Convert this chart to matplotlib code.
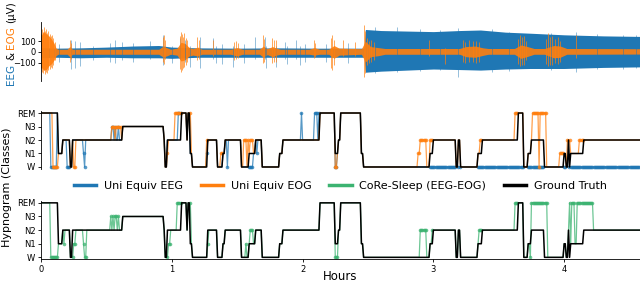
import numpy as np
import matplotlib
matplotlib.use("Agg")
import matplotlib.pyplot as plt
from matplotlib.lines import Line2D

BLUE   = "#1f77b4"
ORANGE = "#ff7f0e"
GREEN  = "#3cb371"

STAGES          = ["W", "N1", "N2", "N3", "REM"]
EPOCHS_PER_HOUR = 120          # 30 s epochs
N_EPOCHS        = 550

eeg_env_t  = [0.00, 0.12, 0.30, 0.50, 0.70, 0.90, 1.00, 1.20, 1.50, 1.80, 2.10, 2.47,
              2.48, 2.60, 2.80, 3.00, 3.20, 3.36, 3.55, 3.74, 4.00, 4.30, 4.58]
eeg_env_hi = [40, 35, 38, 45, 55, 60, 45, 38, 35, 38, 35, 35,
              210, 200, 195, 190, 200, 205, 185, 175, 160, 150, 145]
eeg_env_lo = [-55, -50, -55, -50, -55, -55, -60, -50, -50, -50, -50, -50,
              -190, -180, -170, -160, -165, -170, -160, -155, -155, -145, -140]

eeg_spk_t  = [0.23, 0.26, 0.30, 0.53, 0.565, 0.83, 0.935, 1.06, 1.14, 1.215,
              1.315, 1.34, 1.47, 1.635, 1.71, 1.72, 1.80, 1.865, 1.95, 1.98,
              2.72, 3.185, 3.58, 4.09, 0.14, 0.40, 0.62, 0.70, 1.00, 1.10,
              1.38, 1.55, 1.88, 2.02, 2.18, 2.35, 2.55, 2.90, 3.05, 3.45,
              3.90, 4.25, 4.45, 4.55]
eeg_spk_hi = [112, 100, 97, 81, 112, 100, 159, 128, 60, 143,
              128, 60, 60, 143, 143, 60, 60, 97, 112, 60,
              236, 221, 190, 190, 70, 60, 90, 80, 60, 110,
              70, 75, 60, 75, 70, 80, 230, 215, 205, 215,
              180, 165, 160, 155]
eeg_spk_lo = [-160, -150, -130, -90, -106, -70, -121, -70, -137, -153,
              -70, -106, -137, -70, -70, -153, -137, -70, -70, -121,
              -190, -230, -175, -184, -90, -80, -75, -95, -100, -90,
              -110, -100, -110, -95, -90, -100, -200, -175, -170, -185,
              -165, -160, -160, -150]

eog_env_t  = [0.00, 0.02, 0.04, 0.06, 0.08, 0.10, 0.115, 0.13, 0.20, 0.22, 0.24,
              0.90, 0.93, 0.96, 0.99, 1.04, 1.07, 1.10, 1.13, 1.16, 1.20, 1.23,
              1.45, 1.50, 1.54, 1.67, 1.70, 1.73, 1.77, 1.80, 1.83, 2.05, 2.09,
              2.13, 2.20, 2.24, 2.28, 2.45, 2.48, 2.52, 2.58, 2.63, 3.20, 3.25,
              3.32, 3.38, 3.42, 3.62, 3.67, 3.72, 3.77, 3.85, 3.92, 3.97, 4.02,
              4.08, 4.58]
eog_env_hi = [150, 190, 170, 150, 120, 80, 35, 25, 25, 50, 25,
              25, 50, 40, 25, 35, 90, 80, 45, 30, 45, 25,
              25, 40, 25, 25, 55, 30, 50, 35, 25, 25, 40,
              25, 25, 60, 35, 30, 100, 50, 40, 32, 32, 50,
              55, 38, 32, 32, 65, 50, 32, 32, 60, 55, 32,
              32, 30]
eog_env_lo = [-140, -170, -165, -130, -110, -75, -35, -22, -22, -45, -22,
              -22, -45, -38, -22, -30, -85, -75, -40, -30, -38, -22,
              -22, -38, -22, -22, -50, -25, -45, -30, -22, -22, -30,
              -22, -22, -60, -30, -22, -95, -45, -35, -22, -22, -45,
              -50, -32, -22, -22, -60, -42, -22, -22, -55, -50, -22,
              -22, -20]

eog_spk_t  = [0.003, 0.01, 0.018, 0.025, 0.033, 0.04, 0.048, 0.056, 0.065, 0.075,
              0.085, 0.095, 0.105, 0.225, 0.232, 0.93, 0.937, 0.945, 1.065, 1.072,
              1.08, 1.088, 1.095, 1.105, 1.115, 1.195, 1.205, 1.315, 1.475, 1.49,
              1.505, 1.695, 1.705, 1.765, 1.78, 1.795, 2.085, 2.095, 2.215, 2.225,
              2.24, 2.31, 2.40, 2.472, 2.478, 2.49, 2.505, 2.525, 2.545, 2.97,
              3.09, 3.225, 3.245, 3.27, 3.30, 3.325, 3.35, 3.645, 3.66, 3.675,
              3.69, 3.71, 3.865, 3.88, 3.895, 3.91, 3.93, 3.95, 3.965, 4.09]
eog_spk_hi = [170, 210, 190, 230, 200, 215, 180, 200, 170, 150,
              160, 130, 90, 112, 80, 140, 160, 110, 150, 188,
              170, 140, 175, 130, 110, 140, 110, 112, 90, 100,
              80, 160, 120, 130, 115, 110, 112, 80, 130, 160,
              110, 112, 90, 250, 200, 130, 100, 110, 90, 112,
              40, 110, 95, 110, 100, 105, 90, 120, 160, 140,
              150, 100, 120, 175, 140, 150, 120, 140, 100, 159]
eog_spk_lo = [-150, -190, -200, -170, -210, -185, -195, -170, -160, -140,
              -150, -120, -80, -95, -70, -90, -110, -70, -160, -185,
              -170, -150, -140, -120, -90, -80, -70, -40, -80, -70,
              -60, -100, -90, -100, -95, -90, -60, -50, -150, -168,
              -120, -40, -40, -230, -200, -120, -100, -90, -80, -40,
              -110, -90, -100, -95, -95, -100, -90, -110, -130, -120,
              -125, -80, -110, -130, -120, -120, -100, -110, -90, -60]

# --- hypnograms: ground truth change points (hours) and stages ---
gt_change = [0.0, 0.13, 0.165, 0.22, 0.235, 0.625, 0.935, 0.945, 0.96, 1.075,
             1.11, 1.12, 1.14, 1.155, 1.275, 1.35, 1.39, 1.405, 1.53, 1.59,
             1.635, 1.69, 1.82, 1.85, 2.13, 2.245, 2.27, 2.285, 2.45, 2.465,
             2.975, 3.0, 3.17, 3.19, 3.205, 3.335, 3.375, 3.65, 3.69, 3.72,
             3.75, 3.85, 4.0, 4.015, 4.03, 4.04, 4.05, 4.15]
gt_stage  = ["REM", "N1", "N2", "W", "N2", "N3", "N2", "W", "N2", "REM",
             "N2", "REM", "N1", "W", "N2", "W", "N1", "N2", "W", "N1",
             "N2", "W", "N1", "N2", "REM", "N1", "N2", "REM", "N1", "W",
             "N1", "N2", "W", "N2", "W", "N1", "N2", "REM", "W", "N1",
             "N2", "W", "N1", "W", "N2", "W", "N1", "N2"]

# predictions = ground truth except these (start h, end h, stage) spans
eeg_dev = [(0.075, 0.125, "W"), (0.20, 0.22, "W"), (0.325, 0.333, "N1"), (0.333, 0.34, "W"),
           (0.535, 0.543, "N3"), (0.55, 0.558, "N3"), (0.565, 0.573, "N3"), (0.585, 0.593, "N3"),
           (1.05, 1.075, "REM"), (1.13, 1.14, "REM"), (1.26, 1.275, "N1"), (1.42, 1.43, "W"),
           (1.59, 1.625, "W"), (1.645, 1.655, "N1"), (1.985, 1.995, "REM"),
           (2.085, 2.095, "REM"), (2.10, 2.11, "REM"), (2.12, 2.13, "REM"),
           (2.245, 2.26, "W"), (2.975, 4.60, "W")]

eog_dev = [(0.09, 0.13, "W"), (0.14, 0.15, "N1"), (0.25, 0.26, "W"),
           (0.535, 0.56, "N3"), (0.567, 0.61, "N3"),
           (0.955, 0.965, "W"), (0.965, 0.975, "N1"), (1.025, 1.075, "REM"),
           (1.13, 1.145, "REM"), (1.265, 1.275, "N2"), (1.37, 1.39, "N1"),
           (1.55, 1.56, "N2"), (1.565, 1.575, "N2"), (1.58, 1.59, "N2"),
           (1.60, 1.61, "N2"), (1.615, 1.625, "N2"), (2.245, 2.26, "W"),
           (2.88, 2.895, "N1"), (2.895, 2.945, "N2"), (2.975, 3.0, "N2"),
           (3.355, 3.375, "N2"), (3.62, 3.65, "REM"), (3.755, 3.805, "REM"),
           (3.805, 3.815, "W"), (3.815, 3.865, "REM"), (3.96, 3.995, "N1"),
           (4.01, 4.015, "N2"), (4.02, 4.03, "N2"), (4.035, 4.045, "N2"),
           (4.115, 4.15, "N2")]

core_dev = [(0.075, 0.13, "W"), (0.17, 0.18, "N1"), (0.225, 0.25, "W"), (0.25, 0.26, "N1"),
            (0.325, 0.333, "N1"), (0.333, 0.342, "W"),
            (0.53, 0.538, "N3"), (0.545, 0.553, "N3"), (0.56, 0.568, "N3"),
            (0.575, 0.583, "N3"), (0.59, 0.598, "N3"),
            (0.96, 0.975, "W"), (0.975, 0.985, "N1"), (1.04, 1.075, "REM"),
            (1.135, 1.145, "REM"), (1.27, 1.28, "N1"), (1.565, 1.575, "N1"),
            (1.595, 1.61, "N2"), (1.615, 1.625, "N2"), (2.245, 2.27, "W"),
            (2.90, 2.945, "N2"), (2.985, 3.0, "N2"), (3.35, 3.375, "N2"),
            (3.62, 3.65, "REM"), (3.735, 3.745, "W"), (3.745, 3.87, "REM"),
            (4.035, 4.045, "REM"), (4.055, 4.08, "REM"), (4.094, 4.22, "REM")]


def expand(change_h, stages):
    t = np.arange(N_EPOCHS) / EPOCHS_PER_HOUR
    idx = np.searchsorted(change_h, t, side="right") - 1
    codes = np.array([STAGES.index(s) for s in stages])
    return t, codes[idx]


def apply_dev(base, t, devs):
    out = base.copy()
    for a, b, s in devs:
        out[(t >= a) & (t < b)] = STAGES.index(s)
    return out


def draw_hypno(ax, t, gt, preds):
    for pred, col in preds:
        diff = list(np.flatnonzero(pred != gt))
        ax.plot(t, pred, color=col, lw=0.9, alpha=0.75, marker="o",
                ms=2.6, mew=0, markevery=diff)
    ax.plot(t, gt, color="black", lw=1.1)
    ax.set_ylim(-0.12, 4.12)
    ax.set_yticks(range(5))
    ax.set_yticklabels(STAGES)


def style(ax):
    for side in ["top", "right"]:
        ax.spines[side].set_visible(False)
    ax.spines["left"].set_linewidth(0.6)
    ax.spines["bottom"].set_linewidth(0.6)
    ax.tick_params(labelsize=6, length=2.5, width=0.6, pad=1.5)
    ax.set_xlim(0, 4.58)


t, gt = expand(gt_change, gt_stage)
eeg_pred  = apply_dev(gt, t, eeg_dev)
eog_pred  = apply_dev(gt, t, eog_dev)
core_pred = apply_dev(gt, t, core_dev)

fig = plt.figure(figsize=(6.4, 2.83), dpi=100)
ax1 = fig.add_axes([0.0641, 0.7138, 0.9359, 0.2085])
ax2 = fig.add_axes([0.0641, 0.4042, 0.9359, 0.2022])
ax3 = fig.add_axes([0.0641, 0.0848, 0.9359, 0.2042])

# signal panel
ax1.fill_between(eeg_env_t, eeg_env_lo, eeg_env_hi, color=BLUE, lw=0)
ax1.vlines(eeg_spk_t, eeg_spk_lo, eeg_spk_hi, color=BLUE, lw=0.6, alpha=0.55)
ax1.fill_between(eog_env_t, eog_env_lo, eog_env_hi, color=ORANGE, lw=0, alpha=0.9)
ax1.vlines(eog_spk_t, eog_spk_lo, eog_spk_hi, color=ORANGE, lw=0.6, alpha=0.8)
ax1.set_ylim(-272, 280)
ax1.set_yticks([-100, 0, 100])
style(ax1)
ax1.spines["bottom"].set_visible(False)
ax1.tick_params(bottom=False, labelbottom=False)

draw_hypno(ax2, t, gt, [(eeg_pred, BLUE), (eog_pred, ORANGE)])
style(ax2)
ax2.spines["bottom"].set_visible(False)
ax2.tick_params(bottom=False, labelbottom=False)

draw_hypno(ax3, t, gt, [(core_pred, GREEN)])
style(ax3)
ax3.set_xticks(range(5))
fig.text(0.532, 0.024, "Hours", fontsize=8.5, ha="center", va="center")

fig.text(0.011, 0.3375, "Hypnogram (Classes)", rotation=90, fontsize=8,
         ha="center", va="center")

# coloured y label of the signal panel, stacked bottom to top
renderer = fig.canvas.get_renderer()
gap = 0.318 * 7.5 / 72 / 2.83      # one space at 7.5 pt, in figure height
y = 0.70
for s, c in [("EEG", BLUE), ("&", "black"), ("EOG", ORANGE), ("(µV)", "black")]:
    txt = fig.text(0.017, y, s, rotation=90, color=c, fontsize=7.5,
                   ha="center", va="bottom")
    bb = txt.get_window_extent(renderer)
    y = fig.transFigure.inverted().transform((0, bb.y1))[1] + gap

handles = [Line2D([], [], color=BLUE, lw=2.5),
           Line2D([], [], color=ORANGE, lw=2.5),
           Line2D([], [], color=GREEN, lw=2.5),
           Line2D([], [], color="black", lw=2.5)]
labels = ["Uni Equiv EEG", "Uni Equiv EOG", "CoRe-Sleep (EEG-EOG)", "Ground Truth"]
fig.legend(handles, labels, loc="center", bbox_to_anchor=(0.532, 0.343),
           ncol=4, frameon=False, fontsize=8, handlelength=2.0,
           columnspacing=1.6, handletextpad=0.7)

fig.savefig("out.png", dpi=100)
